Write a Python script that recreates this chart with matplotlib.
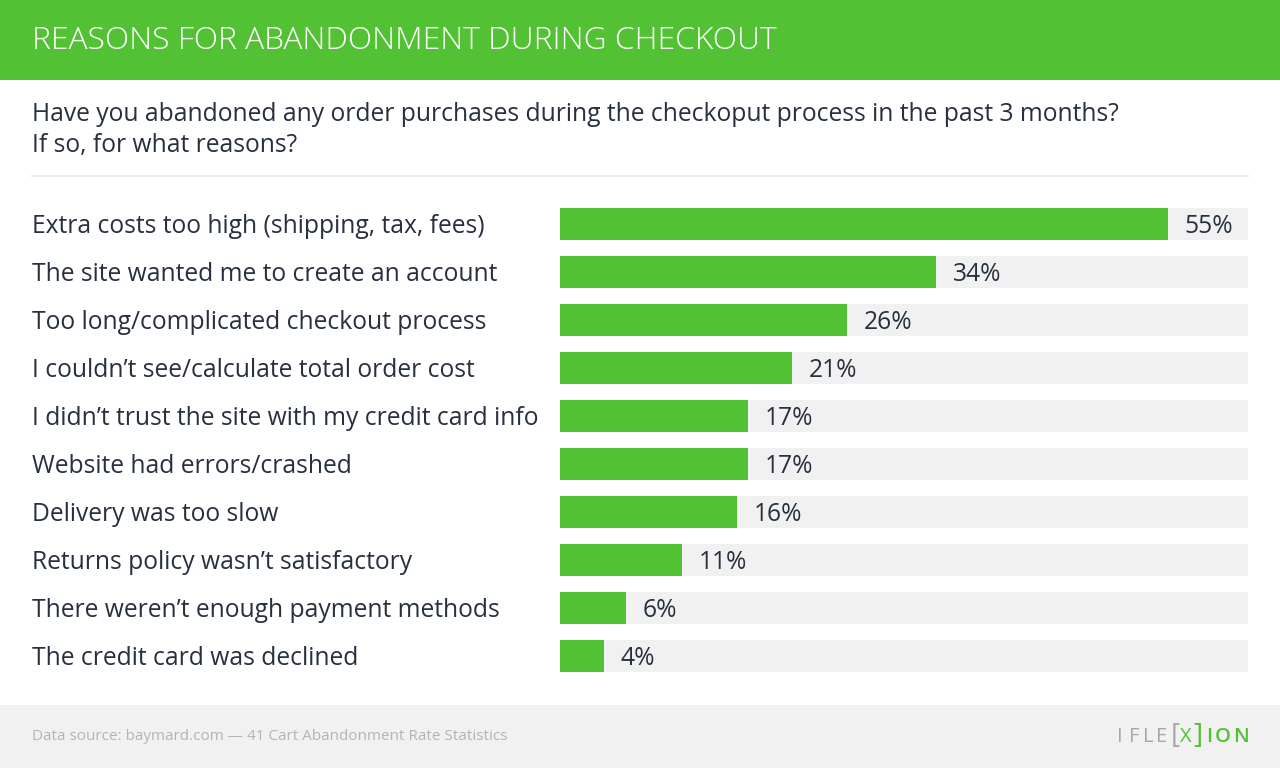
import matplotlib
matplotlib.use("Agg")
import matplotlib.pyplot as plt
from matplotlib.patches import Rectangle
from matplotlib.transforms import blended_transform_factory, offset_copy

categories = [
    "Extra costs too high (shipping, tax, fees)",
    "The site wanted me to create an account",
    "Too long/complicated checkout process",
    "I couldn\u2019t see/calculate total order cost",
    "I didn\u2019t trust the site with my credit card info",
    "Website had errors/crashed",
    "Delivery was too slow",
    "Returns policy wasn\u2019t satisfactory",
    "There weren\u2019t enough payment methods",
    "The credit card was declined",
]
values = [55, 34, 26, 21, 17, 17, 16, 11, 6, 4]
value_labels = ["55%", "34%", "26%", "21%", "17%", "17%", "16%", "11%", "6%", "4%"]

title = "REASONS FOR ABANDONMENT DURING CHECKOUT"
subtitle = "Have you abandoned any order purchases during the checkoput process in the past 3 months?\nIf so, for what reasons?"
source = "Data source: baymard.com \u2014 41 Cart Abandonment Rate Statistics"

GREEN = "#52C234"
DARK = "#27303E"
BG_BAR = "#F1F1F1"
FONT = "Open Sans"

W, H = 1280, 768
fig = plt.figure(figsize=(W / 100, H / 100), dpi=100)
fig.patch.set_facecolor("white")

def fx(px):
    return px / W

def fy(py):
    return 1 - py / H

# header band
fig.patches.append(Rectangle((0, fy(80)), 1, 80 / H, transform=fig.transFigure,
                             facecolor=GREEN, edgecolor="none", zorder=0))
fig.text(fx(32), fy(41), title, color="white", fontsize=22.9, family=FONT,
         fontweight="light", va="center", ha="left")

# subtitle
fig.text(fx(32), fy(130), subtitle, color=DARK, fontsize=17.7, family=FONT,
         va="center", ha="left", linespacing=1.28)

# separator
fig.add_artist(plt.Line2D([fx(32), fx(1248)], [fy(176), fy(176)],
                          transform=fig.transFigure, color="#EBEBEB", lw=1.5))

# footer band
fig.patches.append(Rectangle((0, 0), 1, 63 / H, transform=fig.transFigure,
                             facecolor="#F1F1F1", edgecolor="none", zorder=0))
fig.text(fx(32), fy(737), source, color="#B4B4B4", fontsize=11, family=FONT,
         va="center", ha="left")

# logo
for ch, px in zip("IFLE", [1117, 1129, 1143, 1156]):
    fig.text(fx(px), fy(737), ch, color="#A8A8A8", fontsize=14.5, family=FONT,
             va="center", ha="left")
fig.text(fx(1171), fy(736), "[", color="#A8A8A8", fontsize=20, family=FONT,
         va="center", ha="left")
fig.text(fx(1180), fy(737), "X", color=GREEN, fontsize=14.5, family=FONT,
         va="center", ha="left")
fig.text(fx(1193), fy(736), "]", color=GREEN, fontsize=20, family=FONT,
         va="center", ha="left")
for ch, px in zip("ION", [1206, 1215, 1233]):
    fig.text(fx(px), fy(737), ch, color=GREEN, fontsize=14.5, family=FONT,
             va="center", ha="left", fontweight="semibold")

# bar axes
left_px, right_px = 560, 1248
top_px, bottom_px = 200, 680
ax = fig.add_axes([fx(left_px), fy(bottom_px), (right_px - left_px) / W,
                   (bottom_px - top_px) / H])
xmax = 55 * (right_px - left_px) / (1168 - left_px)
n = len(values)
ypos = list(range(n))
ax.barh(ypos, [xmax] * n, height=0.667, color=BG_BAR, zorder=1)
ax.barh(ypos, values, height=0.667, color=GREEN, zorder=2)
ax.set_xlim(0, xmax)
ax.set_ylim(n - 0.5, -0.5)
ax.axis("off")

trans = blended_transform_factory(fig.transFigure, ax.transData)
trans = offset_copy(trans, fig=fig, x=0, y=-3, units="dots")
for i, (cat, v, lab) in enumerate(zip(categories, values, value_labels)):
    ax.text(fx(32), i, cat, transform=trans, color=DARK, fontsize=17.7, family=FONT,
            va="center", ha="left")
    ax.annotate(lab, (v, i), xytext=(12, -2), textcoords="offset points",
                color=DARK, fontsize=17.7, family=FONT, va="center", ha="left", zorder=3)

fig.savefig("out.png", dpi=100)
